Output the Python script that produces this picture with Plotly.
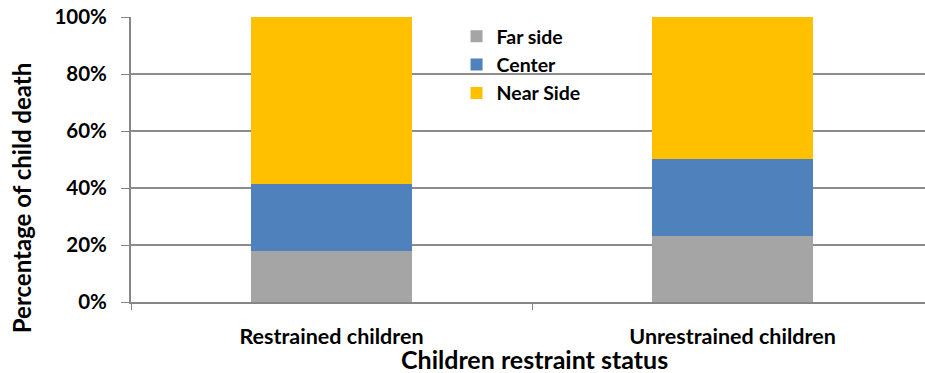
import plotly.graph_objects as go

# Share of child deaths by seating position, per restraint status
categories = ["Restrained children", "Unrestrained children"]
far_side = [0.18, 0.23]
center = [0.235, 0.272]
near_side = [0.585, 0.498]

series = [
    ("Far side", far_side, "#A5A5A5"),
    ("Center", center, "#4F81BD"),
    ("Near Side", near_side, "#FFC000"),
]

FONT = "Lato"

fig = go.Figure()
for name, vals, color in series:
    fig.add_trace(go.Bar(
        name=name, x=categories, y=vals, width=0.4,
        marker=dict(color=color, line=dict(width=0)),
    ))

fig.update_layout(
    barmode="stack",
    width=925, height=373,
    margin=dict(l=131, r=0, t=17, b=71),
    paper_bgcolor="white", plot_bgcolor="white",
    font=dict(family=FONT, color="#000000"),
    showlegend=True,
    legend=dict(
        traceorder="normal",
        x=0.41, y=1.0, xanchor="left", yanchor="top",
        font=dict(family=FONT, size=19.5, color="#000000", weight="bold"),
        bgcolor="rgba(0,0,0,0)",
        itemwidth=30, tracegroupgap=0,
    ),
    xaxis=dict(
        type="category",
        range=[-0.5, 1.48],
        showline=True, linecolor="#868686", linewidth=2,
        ticks="outside", tickson="boundaries", ticklen=6,
        tickcolor="#868686", tickwidth=1,
        ticklabelstandoff=14,
        showgrid=False,
        tickfont=dict(family=FONT, size=21.5, weight="bold", color="#000000"),
    ),
    yaxis=dict(
        range=[0, 1], dtick=0.2, tickformat=".0%",
        showline=True, linecolor="#868686", linewidth=2,
        ticks="outside", ticklen=8, tickcolor="#868686", tickwidth=1,
        ticklabelstandoff=10,
        showgrid=True, gridcolor="#8C8C8C", gridwidth=2,
        zeroline=False,
        tickfont=dict(family=FONT, size=20.5, weight="bold", color="#000000"),
    ),
    annotations=[
        dict(text="Percentage of child death", xref="paper", yref="paper",
             x=-0.137, y=0.365, xanchor="center", yanchor="middle",
             textangle=-90, showarrow=False,
             font=dict(family=FONT, size=24, weight="bold", color="#000000")),
        dict(text="Children restraint status", xref="paper", yref="paper",
             x=0.508, y=-0.2, xanchor="center", yanchor="middle",
             showarrow=False,
             font=dict(family=FONT, size=25, weight="bold", color="#000000")),
    ],
)

fig.write_html("out.html")
